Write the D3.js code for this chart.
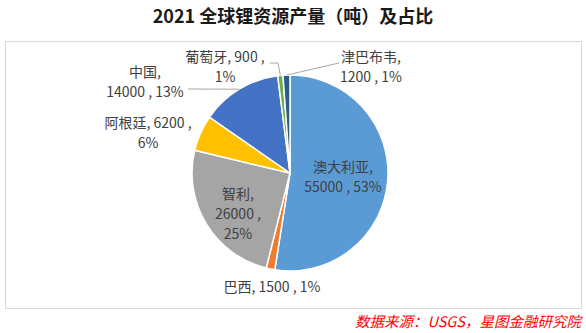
<!DOCTYPE html>
<html><head><meta charset="utf-8">
<script src="https://cdn.jsdelivr.net/npm/d3@7/dist/d3.min.js"></script>
<style>
body{margin:0;background:#fff;}
svg{display:block;}
</style></head>
<body><svg id="c" width="586" height="333"></svg>
<script>
const categories = ["澳大利亚","巴西","智利","阿根廷","中国","葡萄牙","津巴布韦"];
const values = [55000,1500,26000,6200,14000,900,1200];
const percentLabels = ["53%","1%","25%","6%","13%","1%","1%"];
const colors = ["#5B9BD5","#ED7D31","#A5A5A5","#FFC000","#4472C4","#70AD47","#255E91"];
const title = "2021 全球锂资源产量（吨）及占比";
const source = "数据来源：USGS，星图金融研究院";

// label layout: lines and anchor centres (layout only)
const labelLayout = {
  "澳大利亚": {x:343, y:167, lines:(c,v,p)=>[c+",", v+" , "+p], leader:false},
  "巴西":     {x:272, y:287, lines:(c,v,p)=>[c+", "+v+" , "+p], leader:false},
  "智利":     {x:238, y:194, lines:(c,v,p)=>[c+",", v+" ,", p], leader:false},
  "阿根廷":   {x:148, y:123, lines:(c,v,p)=>[c+", "+v+" ,", p], leader:false},
  "中国":     {x:145, y:72,  lines:(c,v,p)=>[c+",", v+" , "+p], leader:[[188,89]]},
  "葡萄牙":   {x:225, y:57,  lines:(c,v,p)=>[c+", "+v+" ,", p], leader:[[270,63],[278,63]]},
  "津巴布韦": {x:371, y:57,  lines:(c,v,p)=>[c+",", v+" , "+p], leader:[[339,63]]}
};

const svg = d3.select("#c");
const font = "'Noto Sans CJK SC','Noto Sans',sans-serif";

svg.append("text").attr("x",293).attr("y",23).attr("text-anchor","middle")
  .attr("font-family",font).attr("font-weight","bold").attr("font-size",18)
  .attr("fill","#1a1a1a").text(title);

svg.append("rect").attr("x",5.5).attr("y",41.5).attr("width",576).attr("height",267)
  .attr("fill","none").attr("stroke","#D9D9D9").attr("stroke-width",1);

const cx=290, cy=173, r=98;
const data = categories.map((c,i)=>({c,v:values[i],p:percentLabels[i],color:colors[i]}));
const pie = d3.pie().sort(null).value(d=>d.v);
const arcs = pie(data);
const arc = d3.arc().innerRadius(0).outerRadius(r);
const g = svg.append("g").attr("transform",`translate(${cx},${cy})`);
g.selectAll("path").data(arcs).join("path")
  .attr("d",arc).attr("fill",d=>d.data.color)
  .attr("stroke","#fff").attr("stroke-width",1.5).attr("stroke-linejoin","round");

// leader lines
arcs.forEach(a=>{
  const L = labelLayout[a.data.c];
  if(!L.leader) return;
  const mid=(a.startAngle+a.endAngle)/2;
  const end=[cx+Math.sin(mid)*r, cy-Math.cos(mid)*r];
  const pts=L.leader.concat([end]);
  svg.append("path").attr("d",d3.line()(pts)).attr("fill","none")
    .attr("stroke","#A6A6A6").attr("stroke-width",1);
});

// labels
arcs.forEach(a=>{
  const L = labelLayout[a.data.c];
  const lines = L.lines(a.data.c, a.data.v, a.data.p);
  const t = svg.append("text").attr("text-anchor","middle")
    .attr("font-family",font).attr("font-size",14).attr("fill","#404040");
  lines.forEach((ln,i)=>{
    t.append("tspan").attr("x",L.x).attr("y",L.y+i*20).attr("dy","0.35em").text(ln);
  });
});

svg.append("text").attr("x",581).attr("y",327).attr("text-anchor","end")
  .attr("font-family",font).attr("font-style","italic").attr("font-size",14.5)
  .attr("fill","#FF0000").text(source);
</script></body></html>
